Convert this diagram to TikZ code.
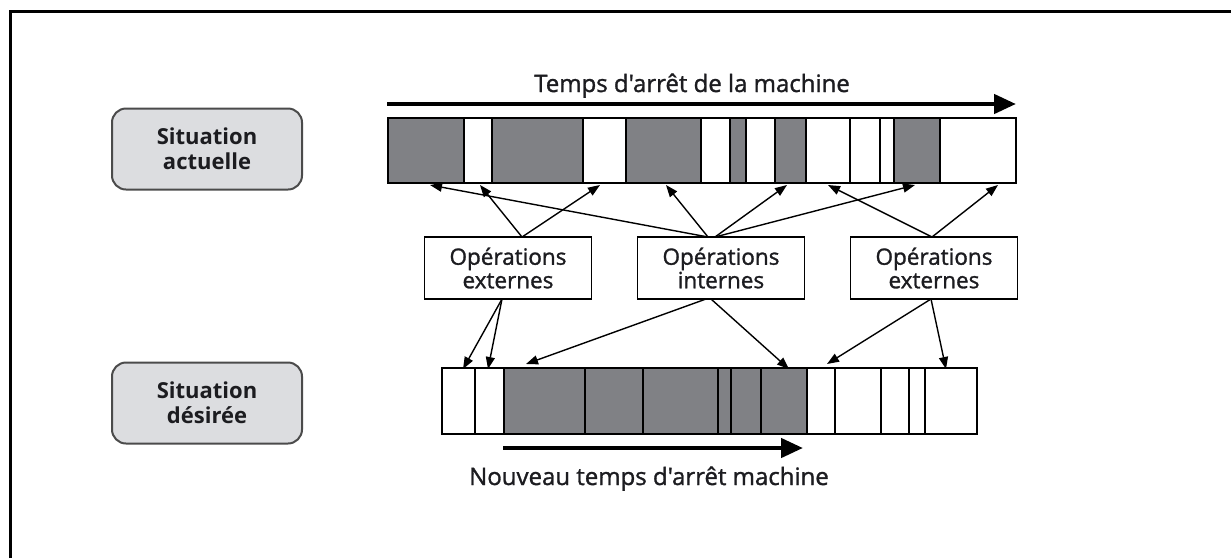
\documentclass[tikz,border=0pt]{standalone}
\usepackage{fontspec}
\setmainfont{Open Sans}
\newfontfamily\medfont{Open Sans}[FakeBold=1.3]
\usetikzlibrary{arrows.meta,calc}

\definecolor{segdark}{RGB}{128,129,133}
\definecolor{labelfill}{RGB}{220,221,224}
\definecolor{labeldraw}{RGB}{75,75,75}
\definecolor{ink}{RGB}{28,28,32}

\begin{document}
\begin{tikzpicture}[x=1pt,y=-1pt,
  situation/.style={draw=labeldraw, line width=2pt, fill=labelfill, rounded corners=14pt,
    minimum width=190pt, minimum height=81pt, align=center, inner sep=0pt,
    font=\bfseries\fontsize{22}{25}\selectfont, text=ink},
  opbox/.style={draw=black, line width=1.6pt, fill=white, minimum width=167pt,
    minimum height=62pt, align=center, inner sep=0pt,
    font=\medfont\fontsize{22.5}{23.5}\selectfont, text=ink},
  title/.style={anchor=base, inner sep=0pt, font=\medfont\fontsize{24}{28}\selectfont, text=ink},
  link/.style={line width=1.4pt, -{Triangle[length=12pt,width=9pt]}},
  timearrow/.style={line width=4.5pt, -{Triangle[length=22pt,width=19pt]}},
  darkseg/.style={fill=segdark},
  divider/.style={line width=1.5pt},
  barframe/.style={draw=black, line width=2pt}
]
\useasboundingbox (0,0) rectangle (1231,558);

% outer frame (top and left edges)
\draw[line width=3pt] (10,558) -- (10,11) -- (1231,11);

% row labels
\node[situation] (actuelle) at (207,149) {Situation\\actuelle};
\node[situation] (desiree)  at (207,403) {Situation\\désirée};

% current machine stop time
\node[title] (toptitle) at (692,92) {Temps d'arrêt de la machine};
\coordinate (ta0) at (387,104);
\coordinate (ta1) at (1016,104);
\draw[timearrow] (ta0) -- (ta1);

% current sequence of operations
\foreach \a/\b in {387/464, 492/583, 626/701, 730/746, 775/806, 894/940}
  \fill[darkseg] (\a,117) rectangle (\b,182);
\foreach \x in {464,492,583,626,701,730,746,775,806,850,880,894,940}
  \draw[divider] (\x,117) -- (\x,182);
\node[barframe, minimum width=628pt, minimum height=65pt, inner sep=0pt, anchor=north west]
  (topbar) at (387,117) {};

% desired sequence of operations
\fill[darkseg] (504,367) rectangle (807,433);
\foreach \x in {475,504,585,643,718,731,761,807,835,881,909,925}
  \draw[divider] (\x,367) -- (\x,433);
\node[barframe, minimum width=535pt, minimum height=66pt, inner sep=0pt, anchor=north west]
  (botbar) at (441,367) {};

% new machine stop time
\coordinate (tb0) at (503,448);
\coordinate (tb1) at (803,448);
\draw[timearrow] (tb0) -- (tb1);
\node[title] (bottitle) at (649,485) {Nouveau temps d'arrêt machine};

% operation types
\node[opbox] (ext1) at (508,268) {Opérations\\externes};
\node[opbox] (int)  at (721,268) {Opérations\\internes};
\node[opbox] (ext2) at (934,268) {Opérations\\externes};

% where the connectors leave the boxes
\coordinate (e1t) at (522,237);
\coordinate (e1b) at (502,299);
\coordinate (itl) at (708,237);
\coordinate (itr) at (715,237);
\coordinate (ibl) at (706,299);
\coordinate (ibr) at (711,299);
\coordinate (e2t) at (932,237);
\coordinate (e2b) at (931,299);

% targets on the current sequence
\coordinate (u1) at (430,185);
\coordinate (u2) at (480,185);
\coordinate (u3) at (600,185);
\coordinate (u4) at (666,185);
\coordinate (u5) at (787,185);
\coordinate (u6) at (828,185);
\coordinate (u7) at (915,185);
\coordinate (u8) at (998,185);

% targets on the desired sequence
\coordinate (d1) at (463,369);
\coordinate (d2) at (488,369);
\coordinate (d3) at (526,364);
\coordinate (d4) at (789,369);
\coordinate (d5) at (827,364);
\coordinate (d6) at (946,369);

% connectors to the current sequence
\draw[link] (e1t) -- (u2);
\draw[link] (e1t) -- (u3);
\draw[link] (itl) -- (u1);
\draw[link] (itl) -- (u4);
\draw[link] (itr) -- (u5);
\draw[link] (itr) -- (u7);
\draw[link] (e2t) -- (u6);
\draw[link] (e2t) -- (u8);

% connectors to the desired sequence
\draw[link] (e1b) -- (d1);
\draw[link] (e1b) -- (d2);
\draw[link] (ibl) -- (d3);
\draw[link] (ibr) -- (d4);
\draw[link] (e2b) -- (d5);
\draw[link] (e2b) -- (d6);
\end{tikzpicture}
\end{document}
